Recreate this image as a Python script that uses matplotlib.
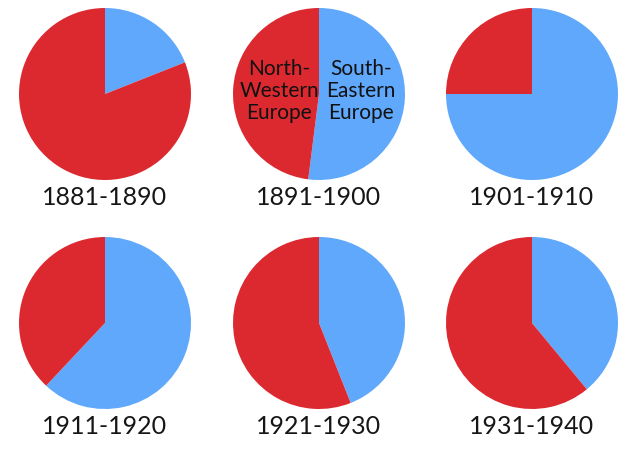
import matplotlib
matplotlib.use("Agg")
import matplotlib.pyplot as plt

plt.rcParams['font.family'] = ['Lato', 'DejaVu Sans']

# share of immigrants, percent
decades = ["1881-1890", "1891-1900", "1901-1910",
           "1911-1920", "1921-1930", "1931-1940"]
south_eastern = [19, 52, 75, 62, 44, 39]
north_western = [81, 48, 25, 38, 56, 61]

blue = "#5fa8fb"
red = "#dc2930"

W, H = 640, 449
fig = plt.figure(figsize=(W / 100, H / 100), dpi=100)
fig.patch.set_facecolor("white")

# pie centres in pixels from top-left
cx = [105, 319, 532]
cy = [94, 323]
r = 86

for i, dec in enumerate(decades):
    x0 = cx[i % 3]
    y0 = cy[i // 3]
    ax = fig.add_axes([(x0 - r) / W, 1 - (y0 + r) / H, 2 * r / W, 2 * r / H])
    # blue clockwise from 12 o'clock, red takes the rest
    ax.pie([south_eastern[i], north_western[i]], colors=[blue, red],
           startangle=90, counterclock=False, radius=1.0,
           wedgeprops=dict(linewidth=0))
    ax.set_xlim(-1, 1)
    ax.set_ylim(-1, 1)
    ax.set_aspect("auto")
    ax.axis("off")
    fig.text(x0 / W, 1 - (y0 + 104) / H, dec, ha="center", va="center",
             fontsize=18, color="#161616")

# region labels on the second pie
fig.text(279 / W, 1 - 91 / H, "North-\nWestern\nEurope", ha="center", va="center",
         fontsize=15, color="#111111", linespacing=1.1)
fig.text(361 / W, 1 - 91 / H, "South-\nEastern\nEurope", ha="center", va="center",
         fontsize=15, color="#111111", linespacing=1.1)

fig.savefig("out.png", dpi=100, facecolor="white")
